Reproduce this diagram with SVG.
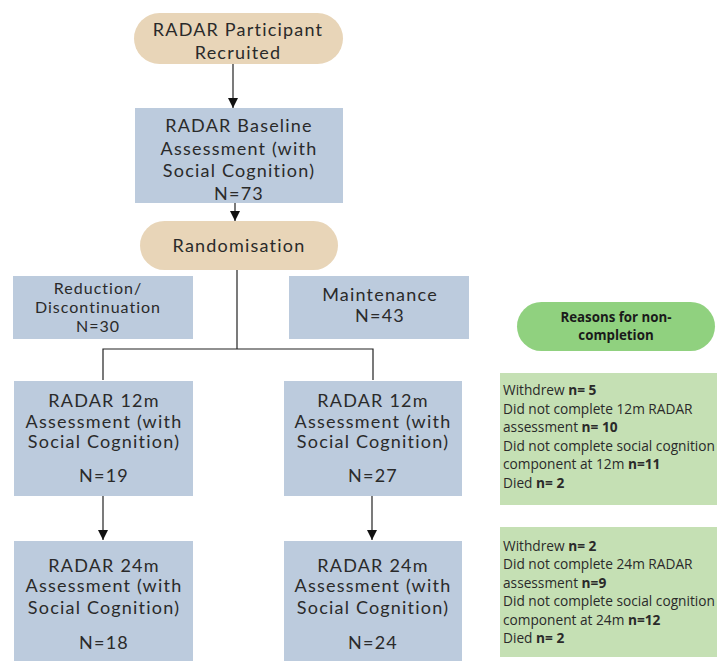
<svg xmlns="http://www.w3.org/2000/svg" width="717" height="661" viewBox="0 0 717 661">
  <style>
    .pill { fill: #e8d5b8; }
    .box { fill: #bccbdd; }
    .gpill { fill: #90d17f; }
    .gbox { fill: #c5e0b4; }
    .t { font-family: Lato, "Open Sans", sans-serif; font-size: 18px; letter-spacing: 1.2px; fill: #2a2a2a; text-anchor: middle; }
    .s { font-size: 16px; letter-spacing: 1px; }
    .g { font-family: "Open Sans", "Noto Sans", sans-serif; font-size: 13.7px; fill: #2a2a2a; }
    .gb { font-family: "Open Sans", "Noto Sans", sans-serif; font-size: 13.3px; font-weight: bold; fill: #1a1a1a; text-anchor: middle; }
    .b { font-weight: bold; }
    .line { stroke: #222; stroke-width: 1.2; fill: none; }
  </style>
  <defs>
    <marker id="arrow" viewBox="0 0 10 10" refX="10" refY="5" markerWidth="10" markerHeight="10" markerUnits="userSpaceOnUse" orient="auto">
      <path d="M0,0 L10,5 L0,10 z" fill="#111"/>
    </marker>
  </defs>

  <g id="connectors">
    <line class="line" x1="233" y1="64" x2="233" y2="108" marker-end="url(#arrow)"/>
    <line class="line" x1="235" y1="203" x2="235" y2="221" marker-end="url(#arrow)"/>
    <polyline class="line" points="237,270 237,349"/>
    <polyline class="line" points="103,380 103,349 373,349 373,380"/>
    <line class="line" x1="103" y1="496" x2="103" y2="540" marker-end="url(#arrow)"/>
    <line class="line" x1="372" y1="496" x2="372" y2="540" marker-end="url(#arrow)"/>
  </g>

  <g id="recruited">
    <rect class="pill" x="134" y="13" width="209" height="51" rx="25.5"/>
    <text class="t" x="238" y="36">RADAR Participant</text>
    <text class="t" x="238" y="59">Recruited</text>
  </g>

  <g id="baseline">
    <rect class="box" x="135" y="108" width="208" height="95"/>
    <text class="t" x="239" y="132">RADAR Baseline</text>
    <text class="t" x="239" y="155">Assessment (with</text>
    <text class="t" x="239" y="177">Social Cognition)</text>
    <text class="t" x="239" y="200">N=73</text>
  </g>

  <g id="randomisation">
    <rect class="pill" x="140" y="221" width="198" height="49" rx="24.5"/>
    <text class="t" x="239" y="252">Randomisation</text>
  </g>

  <g id="reduction">
    <rect class="box" x="13" y="276" width="180" height="63"/>
    <text class="t s" x="98" y="294">Reduction/</text>
    <text class="t s" x="98" y="313">Discontinuation</text>
    <text class="t s" x="98" y="332">N=30</text>
  </g>

  <g id="maintenance">
    <rect class="box" x="289" y="276" width="180" height="63"/>
    <text class="t" x="380" y="301">Maintenance</text>
    <text class="t" x="380" y="322">N=43</text>
  </g>

  <g id="reduction-12m">
    <rect class="box" x="14" y="381" width="179" height="115"/>
    <text class="t" x="104" y="407">RADAR 12m</text>
    <text class="t" x="104" y="428">Assessment (with</text>
    <text class="t" x="104" y="448">Social Cognition)</text>
    <text class="t" x="104" y="482">N=19</text>
  </g>

  <g id="maintenance-12m">
    <rect class="box" x="284" y="381" width="178" height="115"/>
    <text class="t" x="373" y="407">RADAR 12m</text>
    <text class="t" x="373" y="428">Assessment (with</text>
    <text class="t" x="373" y="448">Social Cognition)</text>
    <text class="t" x="373" y="482">N=27</text>
  </g>

  <g id="reduction-24m">
    <rect class="box" x="14" y="541" width="179" height="120"/>
    <text class="t" x="104" y="572">RADAR 24m</text>
    <text class="t" x="104" y="592">Assessment (with</text>
    <text class="t" x="104" y="614">Social Cognition)</text>
    <text class="t" x="104" y="649">N=18</text>
  </g>

  <g id="maintenance-24m">
    <rect class="box" x="284" y="541" width="178" height="120"/>
    <text class="t" x="373" y="572">RADAR 24m</text>
    <text class="t" x="373" y="592">Assessment (with</text>
    <text class="t" x="373" y="614">Social Cognition)</text>
    <text class="t" x="373" y="649">N=24</text>
  </g>

  <g id="reasons-header">
    <rect class="gpill" x="517" y="302" width="198" height="49" rx="24.5"/>
    <text class="gb" x="616" y="322">Reasons for non-</text>
    <text class="gb" x="616" y="340">completion</text>
  </g>

  <g id="reasons-12m">
    <rect class="gbox" x="500" y="373" width="217" height="132"/>
    <text class="g" x="503" y="395">Withdrew <tspan class="b">n= 5</tspan></text>
    <text class="g" x="503" y="414">Did not complete 12m RADAR</text>
    <text class="g" x="503" y="432">assessment <tspan class="b">n= 10</tspan></text>
    <text class="g" x="503" y="451">Did not complete social cognition</text>
    <text class="g" x="503" y="469">component at 12m <tspan class="b">n=11</tspan></text>
    <text class="g" x="503" y="488">Died <tspan class="b">n= 2</tspan></text>
  </g>

  <g id="reasons-24m">
    <rect class="gbox" x="500" y="527" width="217" height="130"/>
    <text class="g" x="503" y="551">Withdrew <tspan class="b">n= 2</tspan></text>
    <text class="g" x="503" y="569">Did not complete 24m RADAR</text>
    <text class="g" x="503" y="588">assessment <tspan class="b">n=9</tspan></text>
    <text class="g" x="503" y="606">Did not complete social cognition</text>
    <text class="g" x="503" y="625">component at 24m <tspan class="b">n=12</tspan></text>
    <text class="g" x="503" y="643">Died <tspan class="b">n= 2</tspan></text>
  </g>
</svg>
